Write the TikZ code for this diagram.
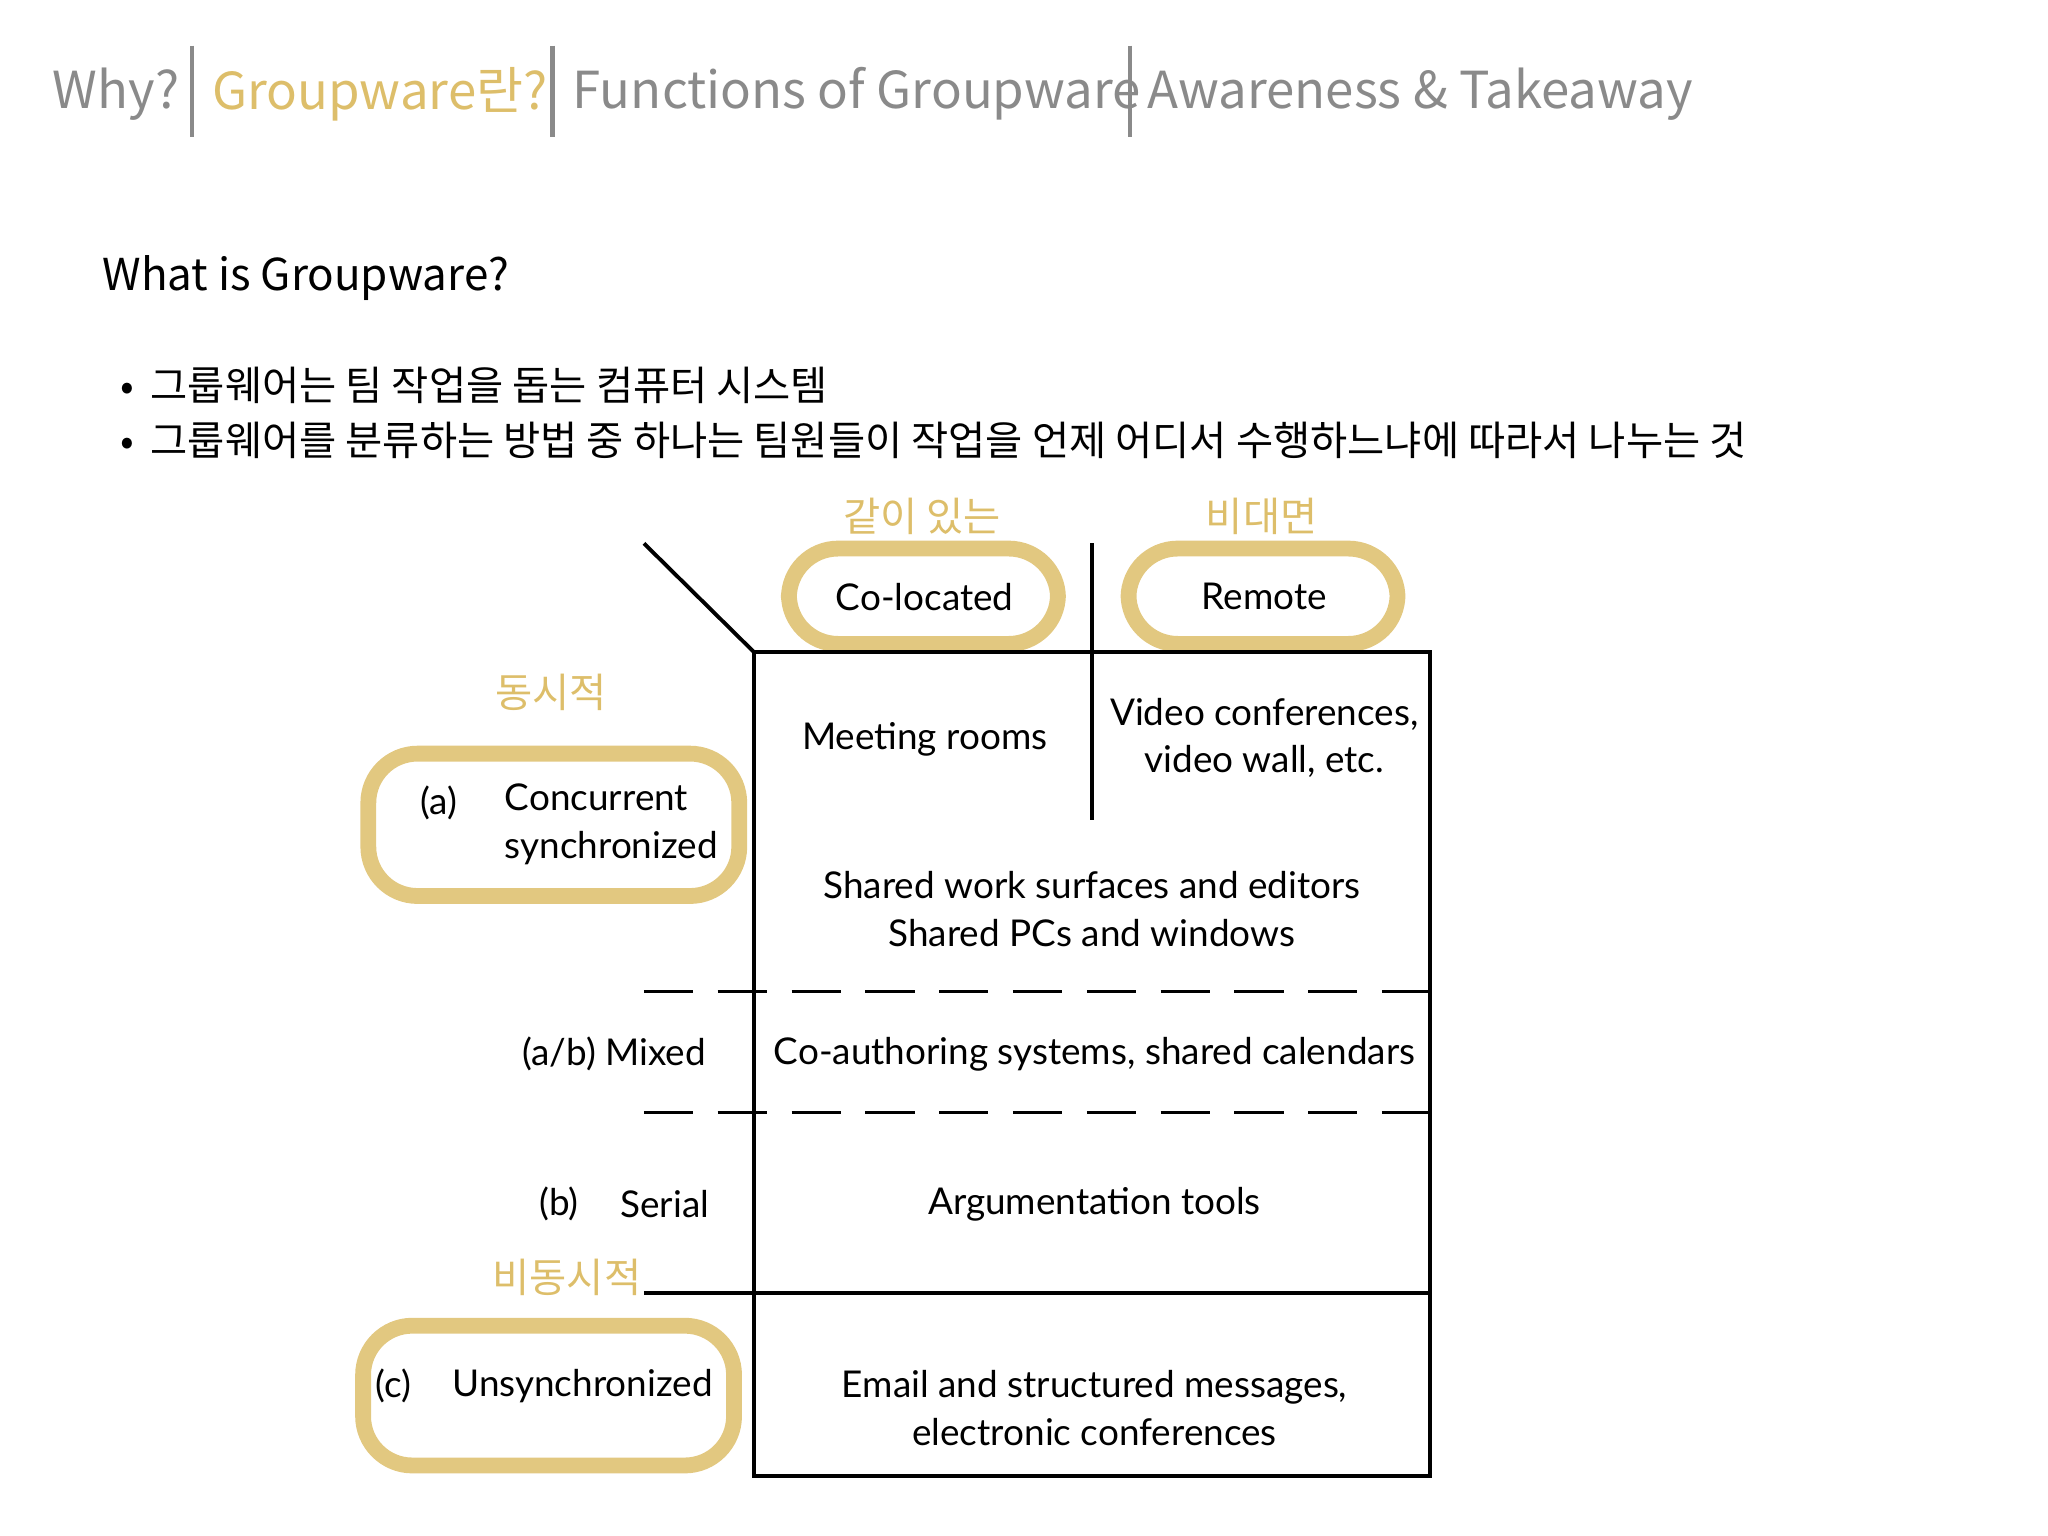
\documentclass[tikz,border=0pt]{standalone}
\usepackage{fontspec}
\setmainfont{Lato}
\newfontfamily\kr{Noto Sans CJK KR}
\definecolor{gold}{HTML}{DDBE6A}
\definecolor{hgray}{HTML}{8A8A8A}
\begin{document}
\begin{tikzpicture}[x=0.01306cm,y=-0.01306cm,
  hdr/.style={font=\kr\fontsize{14.5}{16}\selectfont,anchor=west,inner sep=0},
  cell/.style={font=\fontsize{10.5}{13.5}\selectfont,align=center,inner sep=0},
  glab/.style={font=\kr\fontsize{11.5}{13}\selectfont,text=gold,inner sep=0},
  gbox/.style={draw=gold,line width=4.5pt,rounded corners=14pt,opacity=0.85},
  bul/.style={font=\kr\fontsize{11.5}{13}\selectfont,anchor=west,inner sep=0}]
\useasboundingbox (0,0) rectangle (1568,1176);
% header
\node[hdr,text=hgray] (h1) at (40,72) {Why?};
\node[hdr,text=gold] (h2) at (162,72) {Groupware란?};
\node[hdr,text=hgray] (h3) at (438,72) {Functions of Groupware};
\node[hdr,text=hgray] (h4) at (878,72) {Awareness \& Takeaway};
\foreach \x in {147,423,865} \draw[hgray,line width=1.2pt] (\x,35) -- (\x,105);
% title
\node[font=\kr\fontsize{12.5}{14}\selectfont,anchor=west,inner sep=0] (t) at (78,213) {What is Groupware?};
\node[bul] (b1) at (92,295) {•\hspace{0.4em}그룹웨어는 팀 작업을 돕는 컴퓨터 시스템};
\node[bul] (b2) at (92,337) {•\hspace{0.4em}그룹웨어를 분류하는 방법 중 하나는 팀원들이 작업을 언제 어디서 수행하느냐에 따라서 나누는 것};
% gold labels
\node[glab] (g1) at (706,395) {같이 있는};
\node[glab] (g2) at (966,395) {비대면};
\node[glab] (g3) at (422,530) {동시적};
\node[glab] (g4) at (434,978) {비동시적};
% gold boxes
\draw[gbox] (604,420) rectangle (810,493);
\draw[gbox] (864,420) rectangle (1070,493);
\draw[gbox] (282,577) rectangle (566,686);
\draw[gbox] (278,1015) rectangle (562,1122);
% table lines
\draw[line width=1.1pt] (577,499) rectangle (1095,1130);
\draw[line width=1.1pt] (493,416) -- (577,499);
\draw[line width=1.1pt] (836,416) -- (836,628);
\draw[dashed,dash pattern=on 14pt off 7pt,line width=0.9pt] (493,759) -- (1095,759);
\draw[dashed,dash pattern=on 14pt off 7pt,line width=0.9pt] (493,852) -- (1095,852);
\draw[line width=1.1pt] (493,990) -- (1095,990);
% texts
\node[cell] (c1) at (708,457) {Co-located};
\node[cell] (c2) at (968,457) {Remote};
\node[cell] (m1) at (708,566) {Meeting rooms};
\node[cell] (m2) at (968,565) {Video conferences,\\video wall, etc.};
\node[cell] (m3) at (836,696) {Shared work surfaces and editors\\Shared PCs and windows};
\node[cell] (m4) at (838,807) {Co-authoring systems, shared calendars};
\node[cell] (m5) at (838,922) {Argumentation tools};
\node[cell] (m6) at (838,1078) {Email and structured messages,\\electronic conferences};
\node[cell] (ra) at (336,615) {(a)};
\node[cell,anchor=west,align=left] (rb) at (386,631) {Concurrent\\synchronized};
\node[cell,anchor=east] (rm) at (541,807) {(a/b) Mixed};
\node[cell] (rs1) at (428,922) {(b)};
\node[cell] (rs2) at (509,922) {Serial};
\node[cell] (rc1) at (301,1061) {(c)};
\node[cell] (rc2) at (446,1061) {Unsynchronized};
\end{tikzpicture}
\end{document}
